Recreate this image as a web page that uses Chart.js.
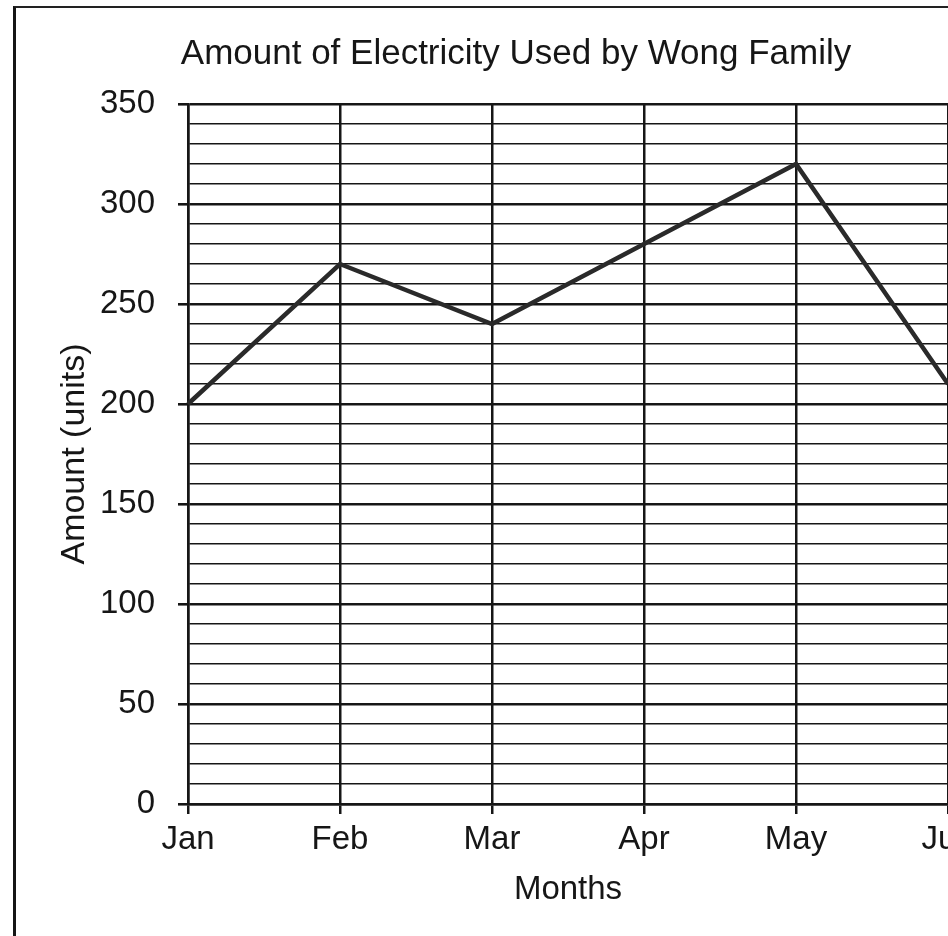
<!DOCTYPE html>
<html>
<head>
    <title>Amount of Electricity Used by Wong Family</title>
    <script src="https://cdn.jsdelivr.net/npm/chart.js"></script>
    <style>
        body {
            margin: 0;
            background: #ffffff;
            overflow: hidden;
        }
        /* cornice della pagina scansionata */
        .frame {
            position: absolute;
            left: 13px;
            top: 6px;
            width: 1200px;
            height: 1200px;
            border-left: 3px solid #161616;
            border-top: 2px solid #222;
        }
        #electricityChart {
            position: absolute;
            left: 0;
            top: 0;
        }
    </style>
</head>
<body>
    <div class="frame"></div>
    <canvas id="electricityChart" width="1008" height="936"></canvas>

    <script>
        // Dati
        const months = ['Jan', 'Feb', 'Mar', 'Apr', 'May', 'Jun'];
        const amounts = [200, 270, 240, 280, 320, 210];
        const yMin = 0;
        const yMax = 350;
        const yStep = 10;
        const yLabelEvery = 50;

        const ink = '#161616';
        const fontFamily = '"Liberation Sans", Arial, sans-serif';

        const ctx = document.getElementById('electricityChart').getContext('2d');

        const chart = new Chart(ctx, {
            type: 'line',
            data: {
                labels: months,
                datasets: [{
                    label: 'Amount',
                    data: amounts,
                    borderColor: '#2a2a2a',
                    borderWidth: 4.5,
                    pointRadius: 0,
                    tension: 0,
                    fill: false
                }]
            },
            options: {
                responsive: false,
                animation: false,
                layout: {
                    padding: { left: 84, right: 60, top: 0, bottom: 0 }
                },
                plugins: {
                    legend: { display: false },
                    tooltip: { enabled: false },
                    title: {
                        display: true,
                        text: 'Amount of Electricity Used by Wong Family',
                        color: ink,
                        font: { family: fontFamily, size: 35, weight: 'normal' },
                        padding: { top: 33, bottom: 29 }
                    }
                },
                scales: {
                    x: {
                        offset: false,
                        afterFit: function (scale) { scale.height = 132; },
                        grid: {
                            color: ink,
                            lineWidth: 2.5,
                            tickLength: 10,
                            tickColor: ink
                        },
                        border: { color: ink, width: 2.5 },
                        ticks: {
                            color: ink,
                            padding: 6,
                            maxRotation: 0,
                            font: { family: fontFamily, size: 33 }
                        },
                        title: {
                            display: true,
                            text: 'Months',
                            color: ink,
                            font: { family: fontFamily, size: 33 },
                            padding: { top: 0, bottom: 26 }
                        }
                    },
                    y: {
                        min: yMin,
                        max: yMax,
                        afterFit: function (scale) { scale.width = 104; },
                        grid: {
                            color: ink,
                            lineWidth: (c) => (c.tick && c.tick.value % yLabelEvery === 0) ? 2.6 : 1.6,
                            tickLength: 10,
                            tickColor: (c) => (c.tick && c.tick.value % yLabelEvery === 0) ? ink : 'rgba(0,0,0,0)'
                        },
                        border: { color: ink, width: 2.5 },
                        ticks: {
                            stepSize: yStep,
                            autoSkip: false,
                            color: ink,
                            padding: 23,
                            font: { family: fontFamily, size: 33 },
                            callback: (value) => value % yLabelEvery === 0 ? value : ''
                        },
                        title: {
                            display: true,
                            text: 'Amount (units)',
                            color: ink,
                            font: { family: fontFamily, size: 34 },
                            padding: { top: -30, bottom: 0 }
                        }
                    }
                }
            }
        });
    </script>
</body>
</html>
